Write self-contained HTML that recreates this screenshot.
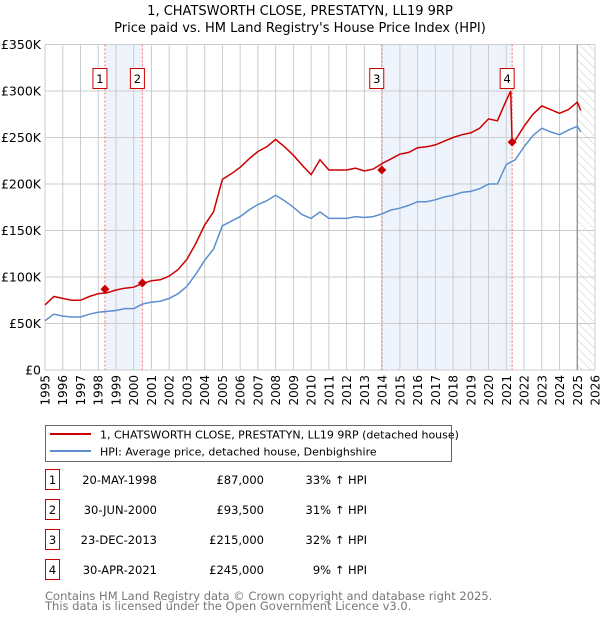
<!DOCTYPE html>
<html><head><meta charset="utf-8"><style>
body{margin:0;background:#fff;font-family:"DejaVu Sans","Liberation Sans",sans-serif;}
svg text{font-family:"DejaVu Sans","Liberation Sans",sans-serif;}
</style></head><body>
<svg id="c" width="600" height="620" xmlns="http://www.w3.org/2000/svg">
<defs><pattern id="hatch" width="6" height="6" patternUnits="userSpaceOnUse" patternTransform="rotate(-45)"><line x1="0" y1="0" x2="0" y2="6" stroke="#ccc" stroke-width="1"/></pattern></defs>
<text x="300" y="15" text-anchor="middle" font-size="13">1, CHATSWORTH CLOSE, PRESTATYN, LL19 9RP</text>
<text x="300" y="32" text-anchor="middle" font-size="13">Price paid vs. HM Land Registry's House Price Index (HPI)</text>
<g id="grid"></g><g id="marks"></g>
<g>
<rect x="45.5" y="425.5" width="406" height="36" fill="#fff" stroke="#666"/>
<line x1="50" y1="434" x2="91" y2="434" stroke="#cc0000" stroke-width="2"/>
<text x="100" y="438.5" font-size="11">1, CHATSWORTH CLOSE, PRESTATYN, LL19 9RP (detached house)</text>
<line x1="50" y1="451" x2="91" y2="451" stroke="#5b8fd0" stroke-width="2"/>
<text x="100" y="455.5" font-size="11">HPI: Average price, detached house, Denbighshire</text>
</g>
<g id="table" font-size="11.5"></g>
<text x="45" y="600" font-size="11.5" fill="#777">Contains HM Land Registry data © Crown copyright and database right 2025.</text>
<text x="45" y="610" font-size="11.5" fill="#777">This data is licensed under the Open Government Licence v3.0.</text>
</svg>
<script>
const hpiYears=[1995,1995.5,1996,1996.5,1997,1997.5,1998,1998.5,1999,1999.5,2000,2000.5,2001,2001.5,2002,2002.5,2003,2003.5,2004,2004.5,2005,2005.5,2006,2006.5,2007,2007.5,2008,2008.5,2009,2009.5,2010,2010.5,2011,2011.5,2012,2012.5,2013,2013.5,2014,2014.5,2015,2015.5,2016,2016.5,2017,2017.5,2018,2018.5,2019,2019.5,2020,2020.5,2021,2021.5,2022,2022.5,2023,2023.5,2024,2024.5,2025,2025.2];
const hpiValues=[53,60,58,57,57,60,62,63,64,66,66,71,73,74,77,82,90,103,118,130,155,160,165,172,178,182,188,182,175,167,163,170,163,163,163,165,164,165,168,172,174,177,181,181,183,186,188,191,192,195,200,200,221,226,240,252,260,256,253,258,262,256];
const priceYears=[1995,1995.5,1996,1996.5,1997,1997.5,1998,1998.5,1999,1999.5,2000,2000.5,2001,2001.5,2002,2002.5,2003,2003.5,2004,2004.5,2005,2005.5,2006,2006.5,2007,2007.5,2008,2008.5,2009,2009.5,2010,2010.5,2011,2011.5,2012,2012.5,2013,2013.5,2014,2014.5,2015,2015.5,2016,2016.5,2017,2017.5,2018,2018.5,2019,2019.5,2020,2020.5,2021,2021.25,2021.33,2021.5,2022,2022.5,2023,2023.5,2024,2024.5,2025,2025.2];
const priceValues=[70,79,77,75,75,79,82,83,86,88,89,93,96,97,101,108,119,136,156,170,205,211,218,227,235,240,248,240,231,220,210,226,215,215,215,217,214,216,222,227,232,234,239,240,242,246,250,253,255,260,270,268,290,300,245,247,262,275,284,280,276,280,288,279];
const saleLabels=["1","2","3","4"];
const saleYears=[1998.38,2000.49,2013.98,2021.33];
const saleValues=[87,93.5,215,245];
const saleDates=["20-MAY-1998","30-JUN-2000","23-DEC-2013","30-APR-2021"];
const salePrices=["£87,000","£93,500","£215,000","£245,000"];
const saleHpi=["33% ↑ HPI","31% ↑ HPI","32% ↑ HPI","9% ↑ HPI"];
const yTicks=[0,50,100,150,200,250,300,350];
const yTickLabels=["£0","£50K","£100K","£150K","£200K","£250K","£300K","£350K"];
const xTicks=[1995,1996,1997,1998,1999,2000,2001,2002,2003,2004,2005,2006,2007,2008,2009,2010,2011,2012,2013,2014,2015,2016,2017,2018,2019,2020,2021,2022,2023,2024,2025,2026];

const X0=45,X1=595,Y0=370,Y1=44.5;
const xs=y=>X0+(y-1995)/(2026-1995)*(X1-X0);
const ys=v=>Y0-v/350*(Y0-Y1);
const NS="http://www.w3.org/2000/svg";
function mk(t,a,p){const e=document.createElementNS(NS,t);for(const k in a)e.setAttribute(k,a[k]);p.appendChild(e);return e;}
const grid=document.getElementById('grid'),marks=document.getElementById('marks'),table=document.getElementById('table');
for(let i=0;i<4;i+=2){const r=mk('rect',{x:xs(saleYears[i]),y:Y1,width:xs(saleYears[i+1])-xs(saleYears[i]),height:Y0-Y1,fill:'#eef3fc'},grid);

}
const h=mk('rect',{x:xs(2025),y:Y1,width:X1-xs(2025),height:Y0-Y1,fill:'url(#hatch)'},grid);


yTicks.forEach((v,i)=>{mk('line',{x1:X0,x2:X1,y1:ys(v),y2:ys(v),stroke:'#ccc'},grid);
const t=mk('text',{x:41,y:ys(v)+4.5,'text-anchor':'end','font-size':'12.5'},grid);t.textContent=yTickLabels[i];

});
xTicks.forEach(v=>{mk('line',{x1:xs(v),x2:xs(v),y1:Y1,y2:Y0,stroke:'#ccc'},grid);
const t=mk('text',{transform:`translate(${xs(v)+4.5},${Y0+5}) rotate(-90)`,'text-anchor':'end','font-size':'12'},grid);t.textContent=v;

});
mk('line',{x1:xs(2025),x2:xs(2025),y1:Y1,y2:Y0,stroke:'#888','stroke-width':1.2},grid);
saleYears.forEach((y,i)=>{const x=xs(y);mk('line',{x1:x,x2:x,y1:Y1,y2:Y0,stroke:'#f07070','stroke-dasharray':'2,2'},grid);
const b=mk('rect',{x:x-12,y:68.5,width:14,height:20,fill:'#fff',stroke:'#cc0000'},marks);


const t=mk('text',{x:x-5,y:83,'text-anchor':'middle','font-size':'11.5'},marks);t.textContent=saleLabels[i];});
const path=(xa,va)=>xa.map((y,i)=>(i?'L':'M')+xs(y).toFixed(1)+','+ys(va[i]).toFixed(1)).join('');
const hl=mk('path',{d:path(hpiYears,hpiValues),fill:'none',stroke:'#5b8fd0','stroke-width':1.5},marks);


const pl=mk('path',{d:path(priceYears,priceValues),fill:'none',stroke:'#cc0000','stroke-width':1.5},marks);


saleYears.forEach((y,i)=>{const x=xs(y),yy=ys(saleValues[i]);
const d=mk('path',{d:`M${x-4.5},${yy}L${x},${yy-4.5}L${x+4.5},${yy}L${x},${yy+4.5}Z`,fill:'#cc0000'},marks);


const ry=483+i*30;
const bx=mk('rect',{x:45.5,y:ry-13.5,width:14,height:20,fill:'#fff',stroke:'#cc0000'},table);


const a=mk('text',{x:52.5,y:ry+1,'text-anchor':'middle'},table);a.textContent=saleLabels[i];
const b=mk('text',{x:157,y:ry+1,'text-anchor':'end'},table);b.textContent=saleDates[i];


const c=mk('text',{x:264,y:ry+1,'text-anchor':'end'},table);c.textContent=salePrices[i];


const e=mk('text',{x:367,y:ry+1,'text-anchor':'end'},table);e.textContent=saleHpi[i];

});
</script>
</body></html>
